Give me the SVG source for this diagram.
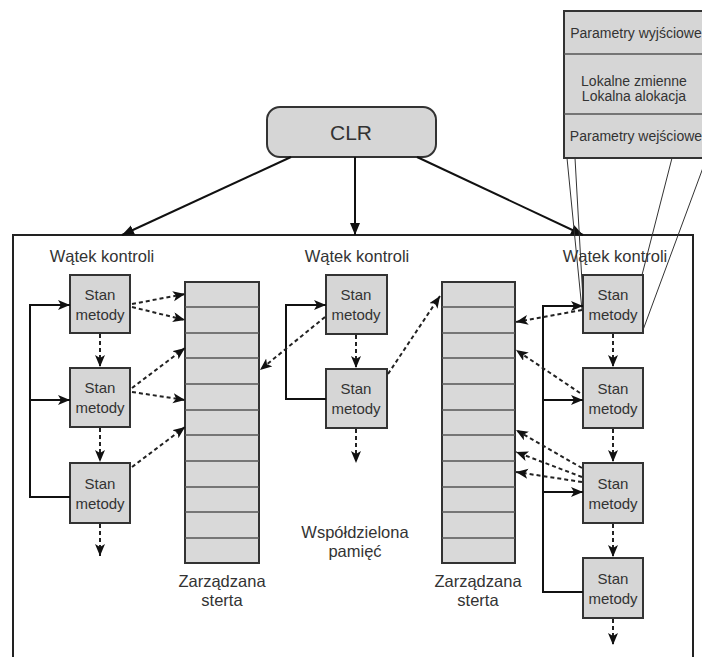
<svg xmlns="http://www.w3.org/2000/svg" width="702" height="657" viewBox="0 0 702 657">
<defs>
<style>
text{font-family:"Liberation Sans",Arial,sans-serif;fill:#333;text-anchor:middle}
.lbl{font-size:16.5px}
.st{font-size:15px}
.stk{font-size:14px}
.box{fill:#d6d6d6;stroke:#333;stroke-width:2}
.heap{fill:#d9d9d9;stroke:#333;stroke-width:2}
.row{stroke:#555;stroke-width:1.5}
.solid{fill:none;stroke:#111;stroke-width:2}
.dash{fill:none;stroke:#222;stroke-width:2;stroke-dasharray:4 3}
.thin{fill:none;stroke:#333;stroke-width:1}
</style>
<marker id="ah" markerUnits="userSpaceOnUse" markerWidth="14" markerHeight="12" refX="12" refY="5" orient="auto">
<path d="M0,0 L12,5 L0,10 L3,5 z" fill="#111" stroke="none"/>
</marker>
<marker id="at" markerUnits="userSpaceOnUse" markerWidth="14" markerHeight="12" refX="12" refY="5" orient="auto">
<path d="M0,0 L12,5 L0,10 z" fill="#111" stroke="none"/>
</marker>
</defs>
<rect width="702" height="657" fill="#fff"/>

<!-- frame -->
<path d="M13,660 V235 H693 V660" fill="none" stroke="#222" stroke-width="2"/>

<!-- stack frame box -->
<g id="stackframe">
<rect x="564" y="11" width="140" height="147" class="box"/>
<line x1="564" y1="54" x2="702" y2="54" class="row"/>
<line x1="564" y1="114" x2="702" y2="114" class="row"/>
<text x="636" y="38" class="stk">Parametry wyjściowe</text>
<text x="634" y="86" class="stk">Lokalne zmienne</text>
<text x="634" y="101" class="stk">Lokalna alokacja</text>
<text x="636" y="141" class="stk">Parametry wejściowe</text>
</g>

<g id="clr">
<rect x="267" y="107" width="169" height="50" rx="13" class="box"/>
<text x="351" y="140" style="font-size:21px">CLR</text>
</g>

<!-- labels -->
<g id="labels">
<text x="102" y="262" class="lbl">Wątek kontroli</text>
<text x="357" y="262" class="lbl">Wątek kontroli</text>
<text x="615" y="262" class="lbl">Wątek kontroli</text>
<text x="355" y="538" class="lbl">Współdzielona</text>
<text x="355" y="557" class="lbl">pamięć</text>
<text x="222" y="587" class="lbl">Zarządzana</text>
<text x="222" y="606" class="lbl">sterta</text>
<text x="478" y="587" class="lbl">Zarządzana</text>
<text x="478" y="606" class="lbl">sterta</text>
</g>

<!-- heaps -->
<g id="heap1">
<rect x="185" y="282" width="74" height="281" class="heap"/>
<path d="M185,307H259M185,333H259M185,358H259M185,384H259M185,410H259M185,435H259M185,461H259M185,487H259M185,512H259M185,538H259" class="row"/>
</g>
<g id="heap2">
<rect x="442" y="282" width="73" height="281" class="heap"/>
<path d="M442,307H515M442,333H515M442,358H515M442,384H515M442,410H515M442,435H515M442,461H515M442,487H515M442,512H515M442,538H515" class="row"/>
</g>

<!-- thread 1 nodes -->
<g id="t1b1"><rect x="70" y="275" width="60" height="58" class="box"/><text x="100" y="300" class="st">Stan</text><text x="100" y="320" class="st">metody</text></g>
<g id="t1b2"><rect x="70" y="368" width="60" height="59" class="box"/><text x="100" y="393" class="st">Stan</text><text x="100" y="413" class="st">metody</text></g>
<g id="t1b3"><rect x="70" y="463" width="60" height="60" class="box"/><text x="100" y="489" class="st">Stan</text><text x="100" y="509" class="st">metody</text></g>

<!-- thread 2 nodes -->
<g id="t2b1"><rect x="326" y="275" width="61" height="59" class="box"/><text x="356" y="300" class="st">Stan</text><text x="356" y="320" class="st">metody</text></g>
<g id="t2b2"><rect x="326" y="369" width="61" height="59" class="box"/><text x="356" y="394" class="st">Stan</text><text x="356" y="414" class="st">metody</text></g>

<!-- thread 3 nodes -->
<g id="t3b1"><rect x="583" y="275" width="60" height="58" class="box"/><text x="613" y="300" class="st">Stan</text><text x="613" y="320" class="st">metody</text></g>
<g id="t3b2"><rect x="583" y="368" width="60" height="60" class="box"/><text x="613" y="394" class="st">Stan</text><text x="613" y="414" class="st">metody</text></g>
<g id="t3b3"><rect x="583" y="463" width="60" height="60" class="box"/><text x="613" y="489" class="st">Stan</text><text x="613" y="509" class="st">metody</text></g>
<g id="t3b4"><rect x="583" y="558" width="60" height="60" class="box"/><text x="613" y="584" class="st">Stan</text><text x="613" y="604" class="st">metody</text></g>

<!-- connectors -->
<g id="connectors">
<path d="M291,157 L122,235" class="solid" marker-end="url(#at)"/>
<path d="M355,157 L355,235" class="solid" marker-end="url(#at)"/>
<path d="M417,157 L583,235" class="solid" marker-end="url(#at)"/>

<path d="M567,158 L582,310" class="thin"/>
<path d="M575,158 L583,300" class="thin"/>
<path d="M672,158 L642,275" class="thin"/>
<path d="M704,165 L643,330" class="thin"/>

<path d="M70,497 H30 V305 H70" class="solid" marker-end="url(#ah)"/>
<path d="M30,400 H70" class="solid" marker-end="url(#ah)"/>
<path d="M326,399 H286 V305 H326" class="solid" marker-end="url(#ah)"/>
<path d="M583,592 H543 V306 H583" class="solid" marker-end="url(#ah)"/>
<path d="M543,400 H583" class="solid" marker-end="url(#ah)"/>
<path d="M543,492 H583" class="solid" marker-end="url(#ah)"/>

<path d="M100,334 V367" class="dash" marker-end="url(#ah)"/>
<path d="M100,428 V462" class="dash" marker-end="url(#ah)"/>
<path d="M100,524 V556" class="dash" marker-end="url(#ah)"/>
<path d="M356,335 V368" class="dash" marker-end="url(#ah)"/>
<path d="M356,429 V463" class="dash" marker-end="url(#ah)"/>
<path d="M613,334 V367" class="dash" marker-end="url(#ah)"/>
<path d="M613,429 V462" class="dash" marker-end="url(#ah)"/>
<path d="M613,524 V557" class="dash" marker-end="url(#ah)"/>
<path d="M613,619 V645" class="dash" marker-end="url(#ah)"/>

<path d="M132,304 L185,294" class="dash" marker-end="url(#ah)"/>
<path d="M132,307 L185,320" class="dash" marker-end="url(#ah)"/>
<path d="M132,388 L185,348" class="dash" marker-end="url(#ah)"/>
<path d="M132,392 L185,400" class="dash" marker-end="url(#ah)"/>
<path d="M132,467 L185,427" class="dash" marker-end="url(#ah)"/>

<path d="M325,317 L260,370" class="dash" marker-end="url(#ah)"/>
<path d="M388,374 L440,296" class="dash" marker-end="url(#ah)"/>

<path d="M582,310 L516,322" class="dash" marker-end="url(#ah)"/>
<path d="M580,393 L516,350" class="dash" marker-end="url(#ah)"/>
<path d="M582,468 L516,430" class="dash" marker-end="url(#ah)"/>
<path d="M582,477 L516,452" class="dash" marker-end="url(#ah)"/>
<path d="M582,482 L516,472" class="dash" marker-end="url(#ah)"/>
</g>
</svg>
